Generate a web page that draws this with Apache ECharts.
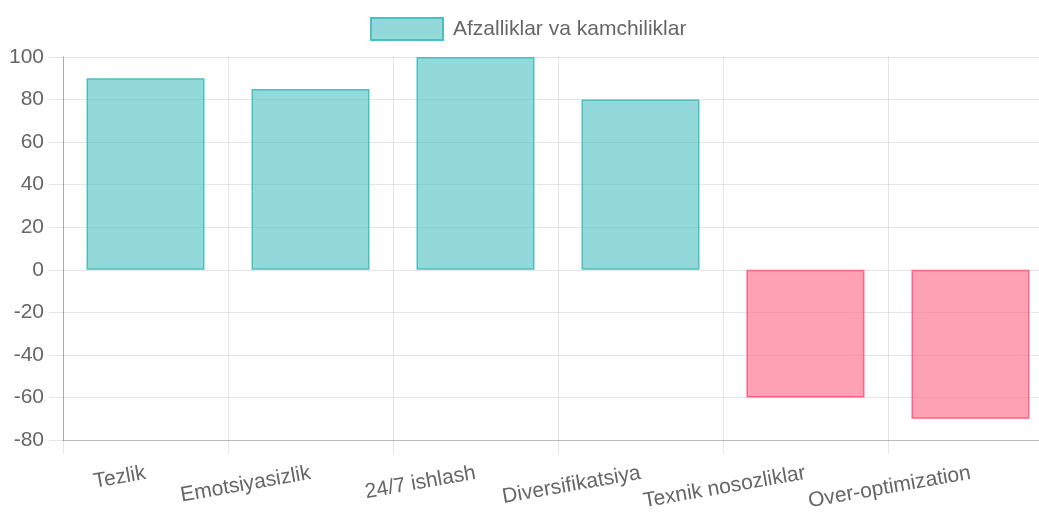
<!DOCTYPE html>
<html><head><meta charset="utf-8">
<script src="https://cdn.jsdelivr.net/npm/echarts@6/dist/echarts.min.js"></script>
<style>html,body{margin:0;padding:0;background:#fff;overflow:hidden}#c{width:1039px;height:516px}</style>
</head><body><div id="c"></div>
<script>
const categories = ['Tezlik','Emotsiyasizlik','24/7 ishlash','Diversifikatsiya','Texnik nosozliklar','Over-optimization'];
const values = [90, 85, 100, 80, -60, -70];
const seriesName = 'Afzalliklar va kamchiliklar';
const yTicks = {min: -80, max: 100, interval: 20};

const posFill = 'rgba(75,192,192,0.6)', posBorder = 'rgb(75,192,192)';
const negFill = 'rgba(255,99,132,0.6)', negBorder = 'rgb(255,99,132)';
const font = 'Arial, "Liberation Sans", Helvetica, sans-serif';
const gridColor = 'rgba(0,0,0,0.1)';

const chart = echarts.init(document.getElementById('c'), null, {renderer: 'canvas'});
chart.setOption({
  animation: false,
  textStyle: {fontFamily: font},
  legend: {
    top: 12, left: 365, itemWidth: 72, itemHeight: 22, itemGap: 10,
    icon: 'rect',
    textStyle: {color: '#666', fontSize: 21, fontFamily: font, padding: [0, 0, 0, 5]},
    data: [seriesName]
  },
  grid: {left: 63, width: 990, top: 57, bottom: 76, containLabel: false, outerBoundsMode: 'none'},
  xAxis: {
    type: 'category', data: categories,
    axisLine: {show: true, onZero: false, lineStyle: {color: 'rgba(0,0,0,0.18)'}},
    axisTick: {show: true, alignWithLabel: false, length: 14, lineStyle: {color: gridColor}},
    splitLine: {show: true, lineStyle: {color: gridColor}},
    axisLabel: {rotate: 10, color: '#666', fontSize: 21, fontFamily: font, margin: 33, interval: 0}
  },
  yAxis: {
    type: 'value', min: yTicks.min, max: yTicks.max, interval: yTicks.interval,
    axisLine: {show: true, lineStyle: {color: 'rgba(0,0,0,0.25)'}},
    axisTick: {show: true, length: 14, lineStyle: {color: gridColor}},
    splitLine: {show: true, lineStyle: {color: gridColor}},
    axisLabel: {color: '#666', fontSize: 21, fontFamily: font, margin: 19}
  },
  series: [{
    name: seriesName, type: 'bar', barWidth: '71.5%',
    itemStyle: {color: posFill, borderColor: posBorder, borderWidth: 1.5},
    data: values.map(v => v >= 0 ? v : {value: v, itemStyle: {color: negFill, borderColor: negBorder, borderWidth: 1.5}})
  }]
});
</script></body></html>
